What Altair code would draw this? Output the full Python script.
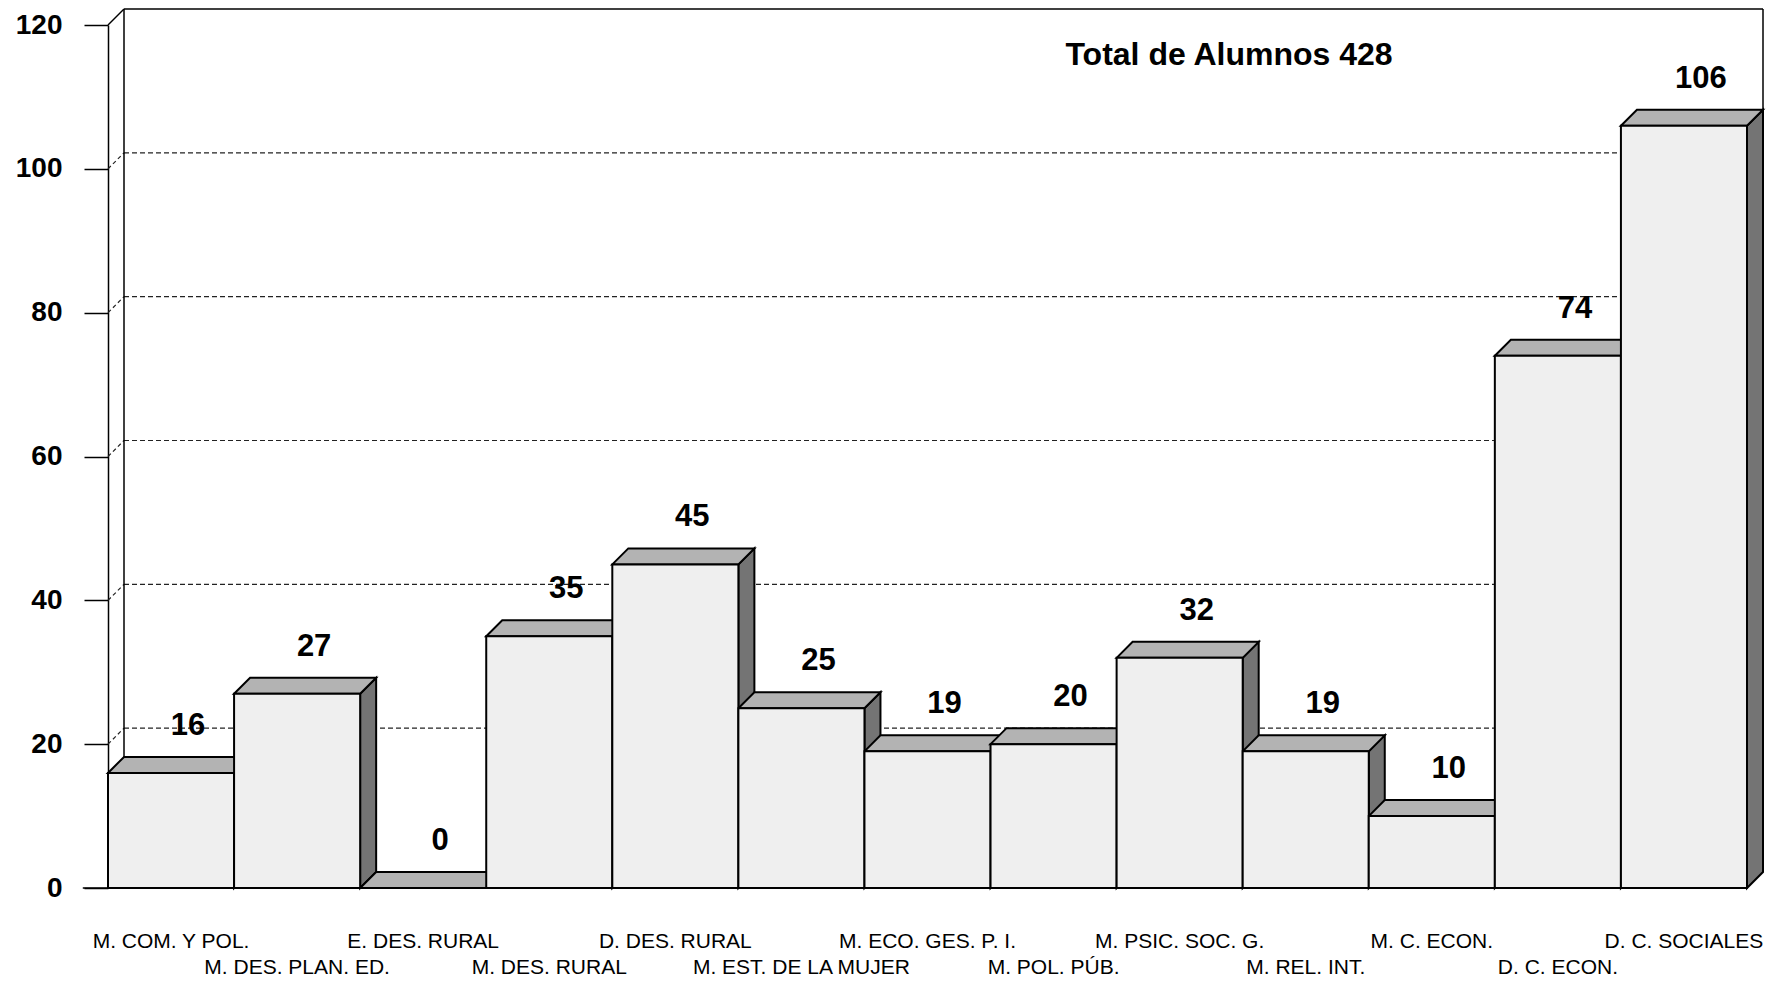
import altair as alt
import pandas as pd

# ---------------- data ----------------
categorias = ["M. COM. Y POL.", "M. DES. PLAN. ED.", "E. DES. RURAL", "M. DES. RURAL",
              "D. DES. RURAL", "M. EST. DE LA MUJER", "M. ECO. GES. P. I.", "M. POL. PÚB.",
              "M. PSIC. SOC. G.", "M. REL. INT.", "M. C. ECON.", "D. C. ECON.", "D. C. SOCIALES"]
alumnos = [16, 27, 0, 35, 45, 25, 19, 20, 32, 19, 10, 74, 106]
y_ticks = [0, 20, 40, 60, 80, 100, 120]
titulo = "Total de Alumnos"

# ---------------- layout / style ----------------
W, H = 1639, 863
N = len(categorias)
YMAX = 120
DEPTH = 16  # pixel depth of the 3-D effect
dx = DEPTH * N / W
dy = DEPTH * YMAX / H
FONT = "Liberation Sans"
FRONT, TOP, SIDE = "#efefef", "#b3b3b3", "#747474"

x_scale = alt.Scale(domain=[0, N], nice=False, zero=False)
y_scale = alt.Scale(domain=[0, YMAX], nice=False)
y_axis = alt.Axis(values=y_ticks, tickSize=24, labelPadding=22, labelFontSize=28,
                  labelFontWeight="bold", labelFont=FONT, labelColor="black",
                  domainColor="black", tickColor="black", domainWidth=1.5,
                  tickWidth=1.5, grid=False, title=None)


def X(f):
    return alt.X(f, type="quantitative", scale=x_scale, axis=None)


def Y(f):
    return alt.Y(f, type="quantitative", scale=y_scale, axis=y_axis, stack=None)


# ---------------- derived tables ----------------
front_df = pd.DataFrame({
    "x0": list(range(N)), "x1": [i + 1 for i in range(N)],
    "y0": [0] * N, "v": alumnos, "xc": [i + 0.5 for i in range(N)],
    "cat": categorias, "row": [i % 2 for i in range(N)],
})

top_rows, side_rows = [], []
for i, v in enumerate(alumnos):
    top_rows += [
        {"id": i, "x": i, "y": v, "y2": v},
        {"id": i, "x": i + dx, "y": v + dy, "y2": v},
        {"id": i, "x": i + 1, "y": v + dy, "y2": v},
        {"id": i, "x": i + 1 + dx, "y": v + dy, "y2": v + dy},
    ]
    side_rows += [
        {"id": i, "x": i + 1, "y": v, "y2": 0},
        {"id": i, "x": i + 1 + dx, "y": v + dy, "y2": dy},
    ]
top_df = pd.DataFrame(top_rows)
side_df = pd.DataFrame(side_rows)

grid_vals = [t for t in y_ticks if 0 < t < YMAX]
grid_back = pd.DataFrame({"xa": [dx] * len(grid_vals), "xb": [N + dx] * len(grid_vals),
                          "ya": [g + dy for g in grid_vals], "yb": [g + dy for g in grid_vals]})
grid_diag = pd.DataFrame({"xa": [0] * len(grid_vals), "xb": [dx] * len(grid_vals),
                          "ya": grid_vals, "yb": [g + dy for g in grid_vals]})
frame_df = pd.DataFrame({
    "xa": [dx, dx, N + dx, 0, -0.2],
    "xb": [N + dx, dx, N + dx, dx, N],
    "ya": [YMAX + dy, dy, dy, YMAX, 0],
    "yb": [YMAX + dy, YMAX + dy, YMAX + dy, YMAX + dy, 0],
})
title_df = pd.DataFrame({"t": [f"{titulo} {sum(alumnos)}"]})

# ---------------- layers ----------------
grid1 = alt.Chart(grid_back).mark_rule(strokeDash=[5, 3], color="#222", strokeWidth=1.2).encode(
    x=X("xa"), x2="xb", y=Y("ya"), y2="yb")
grid2 = alt.Chart(grid_diag).mark_rule(strokeDash=[4, 3], color="#222", strokeWidth=1.2).encode(
    x=X("xa"), x2="xb", y=Y("ya"), y2="yb")
frame = alt.Chart(frame_df).mark_rule(color="black", strokeWidth=1.5).encode(
    x=X("xa"), x2="xb", y=Y("ya"), y2="yb")

sides = alt.Chart(side_df).mark_area(orient="vertical", fill=SIDE, stroke="black",
                                     strokeWidth=2, strokeJoin="miter", opacity=1).encode(
    x=X("x"), y=Y("y"), y2="y2", detail="id:N")
tops = alt.Chart(top_df).mark_area(orient="vertical", fill=TOP, stroke="black",
                                   strokeWidth=2, strokeJoin="miter", opacity=1).encode(
    x=X("x"), y=Y("y"), y2="y2", detail="id:N")
fronts = alt.Chart(front_df).mark_rect(fill=FRONT, stroke="black", strokeWidth=2).encode(
    x=X("x0"), x2="x1", y=Y("y0"), y2="v")

values = alt.Chart(front_df).mark_text(font=FONT, fontSize=31, fontWeight="bold", color="black",
                                       dx=17, dy=-47, baseline="middle").encode(
    x=X("xc"), y=Y("v"), text="v:Q")

lab1 = alt.Chart(front_df).transform_filter("datum.row == 0").mark_text(
    font=FONT, fontSize=21, color="black", baseline="alphabetic").encode(
    x=X("xc"), y=alt.value(H + 60), text="cat:N")
lab2 = alt.Chart(front_df).transform_filter("datum.row == 1").mark_text(
    font=FONT, fontSize=21, color="black", baseline="alphabetic").encode(
    x=X("xc"), y=alt.value(H + 86), text="cat:N")

title = alt.Chart(title_df).mark_text(font=FONT, fontSize=32, fontWeight="bold", color="black",
                                      baseline="alphabetic", align="center").encode(
    x=alt.value(1121), y=alt.value(40), text="t:N")

chart = alt.layer(grid1, grid2, frame, sides, tops, fronts, values, lab1, lab2, title).properties(
    width=W, height=H,
    background="white",
    autosize=alt.AutoSizeParams(type="none"),
    padding={"left": 100, "top": 17, "right": 22, "bottom": 92},
).configure_view(strokeWidth=0, stroke="transparent")

chart.save("out.html", embed_options={"renderer": "svg", "actions": False})
